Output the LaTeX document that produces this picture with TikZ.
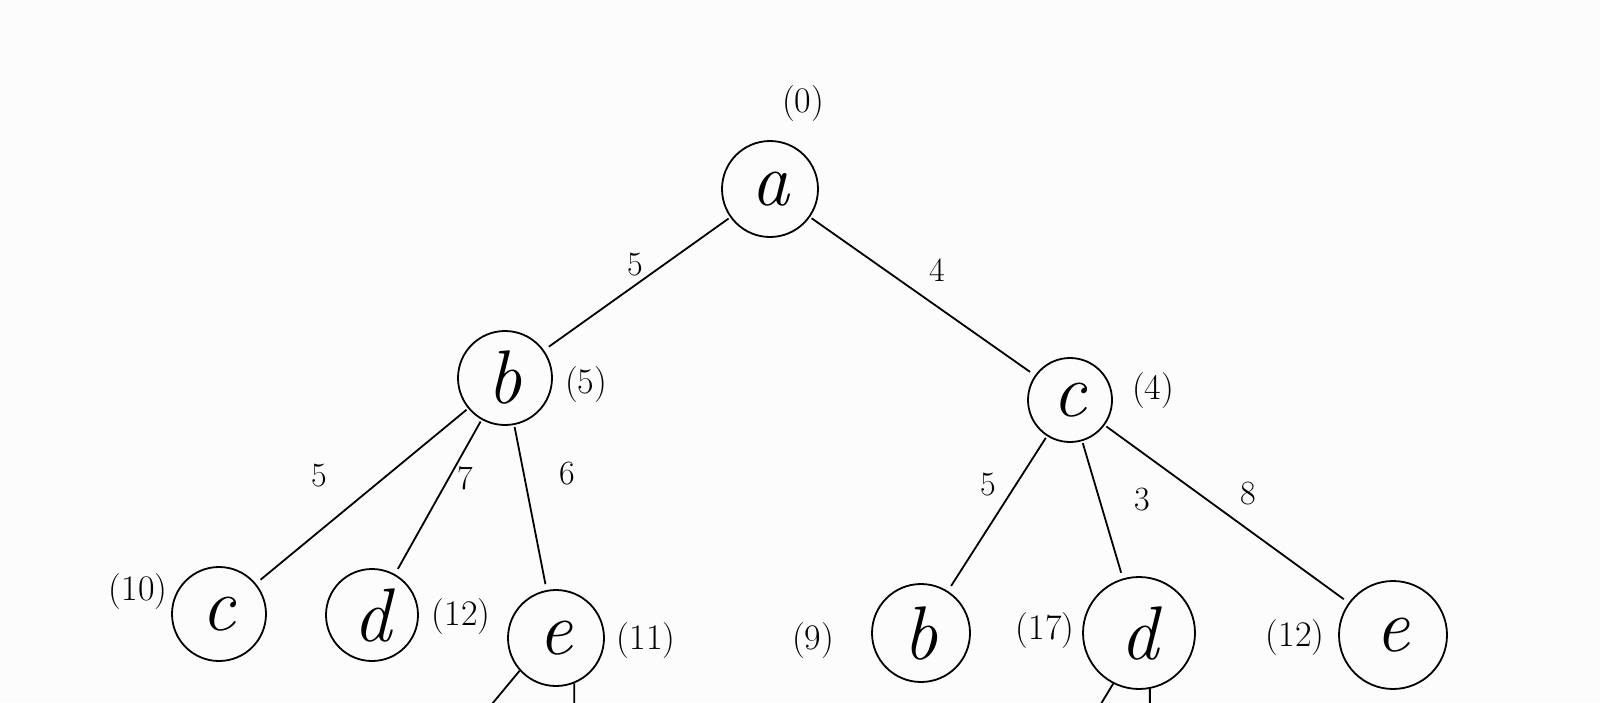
\documentclass[tikz,border=0pt]{standalone}
\begin{document}
\begin{tikzpicture}[x=0.5pt,y=-0.5pt,line width=0.9pt,
    state/.style={draw,circle,inner sep=0pt,minimum size=#1pt,font=\fontsize{38}{40}\selectfont\itshape},
    state/.default=47,
    cost/.style={font=\fontsize{18}{20}\selectfont},
    weight/.style={font=\fontsize{17}{19}\selectfont},
    edge/.style={shorten <=1pt,shorten >=3pt}]
  \useasboundingbox (0,0) rectangle (1600,702);
  \clip (0,0) rectangle (1600,702);
  \fill[black!1] (0,0) rectangle (1600,702);
  \node[state=48] (a) at (770,189) {a};
  \node[state] (b) at (505,378) {b};
  \node[state=42] (c) at (1070,400) {c};
  \node[state] (bc) at (219,614) {c};
  \node[state=46] (bd) at (372,615) {d};
  \node[state=48] (be) at (556,638) {e};
  \node[state=49] (cb) at (921,633) {b};
  \node[state=56] (cd) at (1139,633) {d};
  \node[state=54] (ce) at (1393,635) {e};
  \foreach \u/\v in {a/b,a/c,b/bc,b/bd,b/be,c/cb,c/cd,c/ce}
    \draw[edge] (\u) -- (\v);
  \coordinate (be-l) at (462,740);
  \coordinate (be-r) at (574,760);
  \coordinate (cd-l) at (1067,760);
  \coordinate (cd-r) at (1150,760);
  \draw (be.-138) -- (be-l);
  \draw (be.-68) -- (be-r);
  \draw (cd.-117) -- (cd-l);
  \draw (cd.-79) -- (cd-r);
  \node[weight] (ab-w) at (635,265) {5};
  \node[weight] (ac-w) at (937,270) {4};
  \node[weight] (bbc-w) at (319,476) {5};
  \node[weight] (bbd-w) at (465,478) {7};
  \node[weight] (bbe-w) at (567,474) {6};
  \node[weight] (ccb-w) at (988,485) {5};
  \node[weight] (ccd-w) at (1142,500) {3};
  \node[weight] (cce-w) at (1248,494) {8};
  \node[cost] (a-cost) at (803,104) {(0)};
  \node[cost] (b-cost) at (586,385) {(5)};
  \node[cost] (c-cost) at (1153,391) {(4)};
  \node[cost] (bc-cost) at (138,592) {(10)};
  \node[cost] (bd-cost) at (461,617) {(12)};
  \node[cost] (be-cost) at (646,641) {(11)};
  \node[cost] (cb-cost) at (813,641) {(9)};
  \node[cost] (cd-cost) at (1045,631) {(17)};
  \node[cost] (ce-cost) at (1295,638) {(12)};
\end{tikzpicture}
\end{document}
